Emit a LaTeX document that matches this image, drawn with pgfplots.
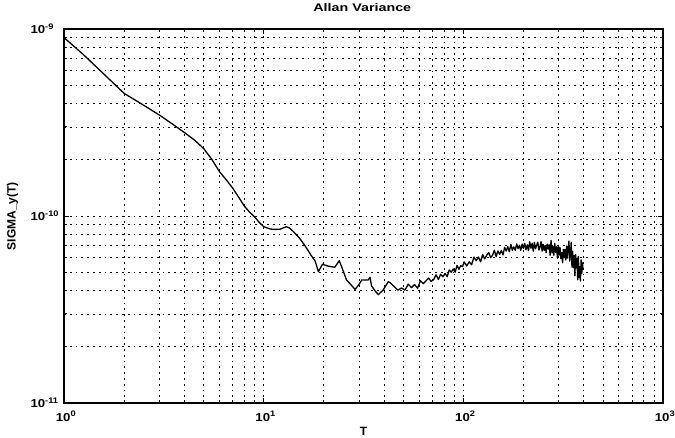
\documentclass[border=0pt]{standalone}
\usepackage{pgfplots}
\pgfplotsset{compat=1.18}
\usepackage{fontspec}
\setmainfont{Liberation Sans}
\newfontfamily\tickfont[FakeStretch=1.15]{Liberation Sans}
\newfontfamily\titlefont[FakeStretch=1.3]{Liberation Sans}
\begin{document}
\begin{tikzpicture}
\useasboundingbox (-64pt,-34pt) rectangle (611pt,403pt);
\begin{axis}[
  at={(0pt,0pt)}, anchor=south west,
  scale only axis, width=599pt, height=374pt,
  xmode=log, ymode=log,
  xmin=1, xmax=1000, ymin=1e-11, ymax=1e-9,
  xtick={1,10,100,1000},
  xticklabels={10\textsuperscript{0},10\textsuperscript{1},10\textsuperscript{2},10\textsuperscript{3}},
  minor xtick={2,3,4,5,6,7,8,9,20,30,40,50,60,70,80,90,200,300,400,500,600,700,800,900},
  ytick={1e-11,1e-10,1e-9},
  yticklabels={10\textsuperscript{-11},10\textsuperscript{-10},10\textsuperscript{-9}},
  minor ytick={2e-11,3e-11,4e-11,5e-11,6e-11,7e-11,8e-11,9e-11,2e-10,3e-10,4e-10,5e-10,6e-10,7e-10,8e-10,9e-10},
  grid=both,
  major grid style={black, line width=0.55pt, dash pattern=on 1.8pt off 4pt},
  minor grid style={black, line width=0.55pt, dash pattern=on 1.8pt off 4pt},
  axis line style={black, line width=1.1pt},
  tick style={black, line width=0.7pt},
  major tick length=5pt, minor tick length=3pt,
  tick align=inside,
  xticklabel style={font=\tickfont\bfseries\fontsize{11.5}{13}\selectfont, anchor=base, yshift=-18pt, xshift=2pt},
  yticklabel style={font=\tickfont\bfseries\fontsize{11.5}{13}\selectfont, anchor=base west, xshift=-37pt, yshift=-4.5pt},
  title={Allan Variance},
  title style={font=\titlefont\bfseries\fontsize{11}{12}\selectfont, at={(axis description cs:0.498,1)}, anchor=base, yshift=11.5pt},
  xlabel={T},
  xlabel style={font=\bfseries\fontsize{12}{13}\selectfont, at={(axis description cs:0.50,0)}, anchor=base, yshift=-32pt},
  ylabel={SIGMA\_y(T)},
  ylabel style={font=\bfseries\fontsize{12}{14}\selectfont, at={(axis description cs:-0.086,0.5)}, anchor=center, rotate=0},
]
\addplot[black, line width=1.3pt, line join=round] coordinates {
(1,9.0e-10) (1.25,7.3e-10) (1.5,6.07e-10) (1.75,5.19e-10) (2,4.53e-10)
(2.5,3.92e-10) (3,3.47e-10) (3.5,3.10e-10) (4,2.80e-10) (4.5,2.55e-10)
(5,2.30e-10) (5.5,2.01e-10) (6,1.73e-10) (6.5,1.56e-10) (7,1.41e-10)
(7.5,1.26e-10) (8,1.13e-10) (8.5,1.05e-10) (9,0.99e-10) (9.5,0.925e-10)
(10,0.877e-10) (10.8,0.852e-10) (11.5,0.848e-10) (12.1,0.85e-10) (12.6,0.866e-10)
(13.0,0.877e-10) (13.5,0.862e-10) (14.1,0.824e-10) (15,0.77e-10) (15.8,0.714e-10)
(16.6,0.66e-10) (17.4,0.61e-10) (18.1,0.575e-10) (18.8,0.504e-10) (19.7,0.552e-10)
(21,0.54e-10) (22.7,0.532e-10) (23.9,0.577e-10) (25,0.51e-10) (26,0.455e-10)
(27,0.436e-10) (28.7,0.405e-10) (30,0.43e-10) (31,0.455e-10) (33.4,0.455e-10)
(34.1,0.47e-10) (34.7,0.423e-10) (36,0.40e-10) (37.5,0.38e-10) (39.7,0.402e-10)
(42.1,0.446e-10) (43,0.44e-10)
(45,0.420e-10) (47,0.402e-10) (49,0.412e-10) (51,0.402e-10) (53,0.432e-10)
(55,0.414e-10) (57,0.430e-10) (59,0.411e-10) (61,0.451e-10) (63,0.435e-10)
(65,0.450e-10) (67,0.466e-10) (69,0.447e-10) (71,0.457e-10) (73,0.485e-10)
(75,0.458e-10) (77,0.488e-10) (79,0.473e-10) (81,0.493e-10) (83,0.474e-10)
(85,0.515e-10) (87,0.501e-10) (89,0.521e-10) (91,0.501e-10) (93,0.544e-10)
(95,0.519e-10) (97,0.543e-10) (99,0.536e-10)
(101,0.568e-10) (104,0.541e-10) (107,0.569e-10) (110,0.549e-10) (113,0.603e-10)
(116,0.577e-10) (119,0.604e-10) (122,0.569e-10) (125,0.623e-10) (128,0.590e-10)
(131,0.617e-10) (134,0.638e-10) (137,0.599e-10) (140,0.616e-10) (143,0.656e-10)
(146,0.607e-10) (149,0.651e-10) (152,0.623e-10) (155,0.655e-10) (158,0.619e-10)
(161,0.680e-10) (164,0.650e-10) (167,0.685e-10) (170,0.644e-10) (173,0.706e-10)
(176,0.656e-10) (179,0.684e-10) (182,0.656e-10) (185,0.709e-10) (188,0.669e-10)
(191,0.697e-10) (194,0.655e-10) (197,0.708e-10) (200,0.672e-10)
(203,0.714e-10) (206,0.660e-10) (209,0.702e-10) (212,0.653e-10) (215,0.728e-10)
(218,0.673e-10) (221,0.715e-10) (224,0.649e-10) (227,0.723e-10) (230,0.668e-10)
(233,0.698e-10) (236,0.725e-10) (239,0.658e-10) (242,0.682e-10) (245,0.730e-10)
(248,0.649e-10) (251,0.706e-10) (254,0.655e-10) (257,0.696e-10) (260,0.636e-10)
(263,0.708e-10) (266,0.666e-10) (269,0.703e-10) (272,0.617e-10) (275,0.741e-10)
(278,0.634e-10) (281,0.688e-10) (284,0.617e-10) (287,0.714e-10) (290,0.640e-10)
(293,0.685e-10) (296,0.595e-10) (299,0.697e-10) (302,0.618e-10) (305,0.678e-10)
(308,0.592e-10) (311,0.639e-10) (314,0.562e-10) (317,0.663e-10) (320,0.598e-10)
(323,0.664e-10) (326,0.582e-10) (329,0.691e-10) (332,0.596e-10) (335,0.670e-10)
(338,0.735e-10) (341,0.574e-10) (344,0.622e-10) (347,0.725e-10) (350,0.532e-10)
(353,0.648e-10) (356,0.531e-10) (359,0.615e-10) (362,0.479e-10) (365,0.622e-10)
(368,0.528e-10) (371,0.594e-10) (374,0.456e-10) (377,0.608e-10) (380,0.469e-10)
(383,0.536e-10) (386,0.449e-10) (389,0.582e-10) (392,0.494e-10) (395,0.562e-10)
(398,0.514e-10)
};
\end{axis}
\end{tikzpicture}
\end{document}
